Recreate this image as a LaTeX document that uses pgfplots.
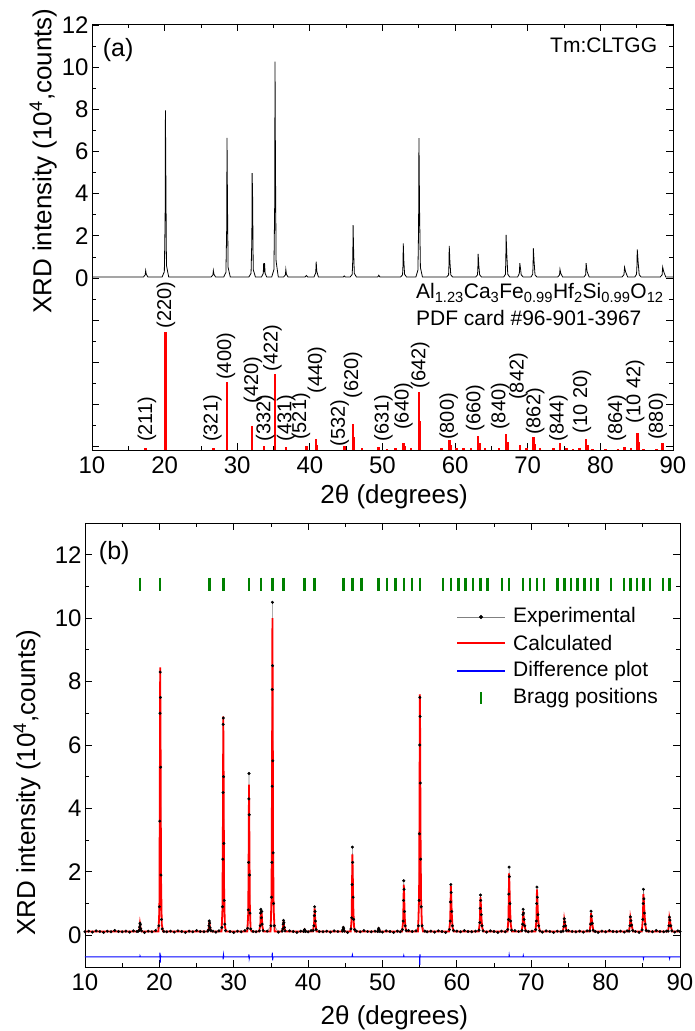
\documentclass[border=0pt]{standalone}
\usepackage{fontspec}
\setmainfont{Liberation Sans}
\usepackage{pgfplots}
\pgfplotsset{compat=1.18}
\definecolor{bragg}{RGB}{0,128,0}

\pgfplotsset{
 mystyle/.style={
  scale only axis,
  xmin=10, xmax=90,
  xtick={10,20,...,90},
  minor x tick num=1,
  tick align=inside,
  major tick length=7pt,
  minor tick length=4pt,
  tick style={black, line width=0.8pt},
  axis line style={line width=0.9pt},
  tick label style={font=\fontsize{24}{27}\selectfont},
  label style={font=\fontsize{26}{29}\selectfont},
  /pgf/number format/assume math mode=true,
  xticklabel style={yshift=-3pt},
 }
}

\begin{document}
\begin{tikzpicture}
\path[use as bounding box] (0pt,0pt) rectangle (695pt,1031pt);

% ---------------- panel (a): measured pattern ----------------
\begin{axis}[mystyle, at={(92pt,581pt)}, anchor=south west, width=581pt, height=426pt,
 ymin=-8.16, ymax=12.05, ytick={0,2,...,12}, extra y ticks={-2,-4,-6,-8}, extra y tick labels={},
 minor ytick={-7,-5,...,11},
 xlabel={2θ (degrees)}, ylabel={XRD intensity (10\textsuperscript{4},counts)},
 xlabel style={at={(axis description cs:0.52,-0.11)}, anchor=center},
 ylabel style={at={(axis description cs:-0.084,0.678)}, anchor=center},
]
\addplot[black, line width=0.8pt] table {
10 0.05
17.09 0.05
17.33 0.15
17.39 0.35
17.47 0.18
17.69 0.05
19.66 0.05
19.96 0.3
20.07 2.8
20.11 7.95
20.16 5.3
20.25 0.6
20.56 0.05
26.41 0.05
26.65 0.15
26.71 0.35
26.79 0.18
27.01 0.05
28.14 0.05
28.44 0.27
28.55 2.4
28.59 6.65
28.65 3.8
28.74 0.5
29.04 0.05
31.6 0.05
31.9 0.22
32.01 1.8
32.05 4.97
32.11 4.0
32.2 0.4
32.5 0.05
33.35 0.05
33.58 0.22
33.64 0.7
33.70 0.28
33.76 0.7
33.84 0.22
34.05 0.05
34.75 0.05
35.05 0.4
35.16 3.6
35.20 10.26
35.26 5.4
35.35 0.8
35.65 0.05
36.39 0.05
36.63 0.15
36.69 0.4
36.77 0.18
36.99 0.05
39.35 0.05
39.52 0.12
39.7 0.05
40.57 0.05
40.81 0.25
40.87 0.77
40.95 0.32
41.17 0.05
44.6 0.05
44.73 0.1
44.86 0.05
45.55 0.05
45.83 0.17
45.91 0.9
45.95 2.51
46.03 1.2
46.12 0.22
46.4 0.05
49.35 0.05
49.49 0.13
49.63 0.05
52.5 0.05
52.76 0.15
52.82 0.6
52.86 1.64
52.94 0.8
53.04 0.18
53.3 0.05
54.6 0.05
54.88 0.38
54.97 2.4
55.02 6.63
55.1 3.3
55.22 0.5
55.5 0.05
58.85 0.05
59.1 0.15
59.15 0.6
59.19 1.52
59.28 0.8
59.4 0.15
59.65 0.05
62.85 0.05
63.08 0.15
63.13 0.45
63.17 1.14
63.26 0.6
63.38 0.15
63.62 0.05
66.7 0.05
66.92 0.17
66.98 0.8
67.02 2.04
67.12 1.1
67.25 0.18
67.5 0.05
68.62 0.05
68.84 0.22
68.91 0.7
69.02 0.4
69.1 0.15
69.35 0.05
70.45 0.05
70.68 0.18
70.73 0.55
70.77 1.41
70.87 0.8
71.0 0.15
71.25 0.05
74.15 0.05
74.38 0.15
74.44 0.41
74.55 0.22
74.8 0.05
77.75 0.05
77.97 0.15
78.04 0.7
78.16 0.32
78.45 0.05
83.0 0.05
83.25 0.16
83.33 0.51
83.47 0.3
83.75 0.05
84.75 0.05
84.98 0.18
85.03 0.55
85.08 1.36
85.2 0.75
85.35 0.15
85.6 0.05
88.25 0.05
88.5 0.15
88.58 0.51
88.72 0.3
89.0 0.05
90 0.05
};
\node[anchor=west, font=\fontsize{25}{28}\selectfont] at (axis cs:11.0,10.8) {(a)};
\node[anchor=east, font=\fontsize{21}{24}\selectfont] at (axis cs:88.3,11.05) {Tm:CLTGG};
\node[anchor=west, font=\fontsize{21}{24}\selectfont, inner sep=0pt] at (axis cs:54.6,-0.71) {Al\textsubscript{1.23}Ca\textsubscript{3}Fe\textsubscript{0.99}Hf\textsubscript{2}Si\textsubscript{0.99}O\textsubscript{12}};
\node[anchor=west, font=\fontsize{21}{24}\selectfont, inner sep=0pt] at (axis cs:54.6,-1.9) {PDF card \#96-901-3967};
\end{axis}

% ---------------- panel (a): PDF card reference bars ----------------
\begin{axis}[at={(92pt,581pt)}, anchor=south west, scale only axis, width=581pt, height=172pt,
 xmin=10, xmax=90, ymin=0, ymax=146.1, hide axis]
\addplot[ycomb, red, line width=2.6pt, no markers] table {
17.39 1.5
20.11 100
26.71 1.7
28.59 57.5
32.05 20.6
33.66 3.7
35.20 64.3
36.69 2.8
39.52 3.1
40.87 9.1
40.97 4.5
44.73 3.1
45.95 22.1
46.07 11
47.16 1.5
49.49 2.8
50.63 1.2
51.76 1.5
52.86 6.2
52.99 3
53.95 1.5
55.02 49.5
55.16 24.6
58.16 1.5
59.19 8.5
59.34 4
60.19 1.5
61.19 1.8
62.18 1.5
63.17 12.1
63.33 6
64.14 1.5
66.06 2
67.02 13.6
67.20 6.8
68.91 4.2
69.84 1.5
70.77 10.8
70.96 5.4
71.69 1.5
73.53 2
74.44 5.7
75.35 1.5
76.25 1.2
77.14 1.5
78.04 9.3
78.26 4.6
78.93 1.2
80.69 1
82.45 1.2
83.33 2.8
84.21 1.5
85.08 14.2
85.34 7
85.96 1
87.71 1.2
88.58 5.7
};
\begin{scope}[every node/.style={rotate=90, anchor=west, inner sep=0pt, font=\fontsize{20}{22}\selectfont}]
\node at (axis cs:17.55,6.8) {(211)};
\node at (axis cs:20.17,103.4) {(220)};
\node at (axis cs:26.6,6.8) {(321)};
\node at (axis cs:28.43,59.5) {(400)};
\node at (axis cs:32.15,39.7) {(420)};
\node at (axis cs:33.85,7.1) {(332)};
\node at (axis cs:34.86,66.5) {(422)};
\node at (axis cs:36.75,7.1) {(431)};
\node at (axis cs:38.76,8.5) {(521)};
\node at (axis cs:40.96,48.2) {(440)};
\node at (axis cs:44.09,2.8) {(532)};
\node at (axis cs:45.92,43.9) {(620)};
\node at (axis cs:50.14,7.1) {(631)};
\node at (axis cs:52.9,17) {(640)};
\node at (axis cs:55.2,52.4) {(642)};
\node at (axis cs:59.1,8.5) {(800)};
\node at (axis cs:62.77,15.5) {(660)};
\node at (axis cs:66.21,17) {(840)};
\node at (axis cs:68.73,42.5) {(842)};
\node at (axis cs:71.03,12.7) {(862)};
\node at (axis cs:74.24,7.1) {(844)};
\node at (axis cs:77.45,14.2) {(10 20)};
\node at (axis cs:82.27,7.1) {(864)};
\node at (axis cs:84.8,22.7) {(10 42)};
\node at (axis cs:87.91,8.5) {(880)};
\end{scope}
\end{axis}

% ---------------- panel (b): Rietveld refinement ----------------
\pgfplotstableread{
10.0 0.11
10.5 0.13
11.0 0.10
11.5 0.14
12.0 0.12
12.5 0.09
13.0 0.13
13.5 0.11
14.0 0.15
14.5 0.12
15.0 0.11
15.5 0.13
16.0 0.10
16.5 0.14
17.0 0.12
17.19 0.13
17.29 0.16
17.34 0.26
17.39 0.38
17.44 0.33
17.49 0.21
17.59 0.14
18.0 0.09
18.5 0.13
19.0 0.11
19.5 0.15
19.93 0.3
20.0 0.9
20.05 3.6
20.09 7.0
20.11 8.3
20.14 7.5
20.17 5.3
20.21 1.9
20.28 0.5
20.38 0.2
20.6 0.12
21.0 0.11
21.5 0.13
22.0 0.10
22.5 0.14
23.0 0.12
23.5 0.09
24.0 0.13
24.5 0.11
25.0 0.15
25.5 0.12
26.0 0.11
26.51 0.13
26.61 0.17
26.66 0.3
26.71 0.45
26.76 0.38
26.81 0.24
26.91 0.15
27.2 0.13
27.6 0.10
28.0 0.14
28.4 0.25
28.48 0.9
28.53 2.4
28.56 4.5
28.58 6.65
28.6 6.85
28.63 5.0
28.67 2.9
28.72 1.1
28.8 0.35
28.9 0.15
29.5 0.12
30.0 0.09
30.5 0.13
31.0 0.11
31.5 0.15
31.86 0.22
31.95 0.8
32.0 2.3
32.03 4.3
32.05 5.1
32.08 3.8
32.12 1.9
32.18 0.7
32.28 0.2
32.6 0.12
33.0 0.11
33.45 0.14
33.55 0.3
33.6 0.7
33.64 0.82
33.7 0.55
33.76 0.75
33.82 0.35
33.95 0.15
34.5 0.13
35.0 0.3
35.08 1.2
35.13 2.3
35.16 4.7
35.18 7.75
35.2 10.5
35.22 8.5
35.25 5.5
35.29 2.6
35.35 1.0
35.45 0.3
36.0 0.10
36.5 0.13
36.6 0.2
36.65 0.35
36.69 0.47
36.74 0.4
36.8 0.25
36.9 0.14
37.5 0.14
38.0 0.12
38.5 0.09
39.0 0.13
39.4 0.12
39.47 0.15
39.52 0.18
39.58 0.15
39.65 0.12
40.0 0.11
40.4 0.15
40.68 0.15
40.78 0.3
40.83 0.62
40.87 0.9
40.92 0.75
40.98 0.45
41.08 0.18
41.5 0.12
42.0 0.11
42.5 0.13
43.0 0.10
43.5 0.14
44.0 0.12
44.6 0.13
44.68 0.18
44.73 0.25
44.78 0.2
44.88 0.13
45.3 0.09
45.76 0.2
45.86 0.55
45.91 1.6
45.95 2.78
45.99 2.3
46.05 1.2
46.12 0.5
46.25 0.18
46.5 0.13
47.0 0.11
47.5 0.15
48.0 0.12
48.5 0.11
49.0 0.13
49.36 0.12
49.44 0.16
49.49 0.22
49.55 0.17
49.65 0.12
50.0 0.10
50.5 0.14
51.0 0.12
51.5 0.09
52.0 0.13
52.4 0.11
52.68 0.18
52.78 0.45
52.83 1.1
52.86 1.72
52.9 1.45
52.96 0.75
53.05 0.3
53.18 0.15
53.5 0.15
54.0 0.12
54.5 0.14
54.83 0.3
54.92 1.1
54.97 3.2
55.0 6.0
55.02 7.5
55.05 6.9
55.08 4.8
55.13 2.4
55.2 0.9
55.32 0.3
55.7 0.13
56.0 0.11
56.5 0.13
57.0 0.10
57.5 0.14
58.0 0.12
58.5 0.09
59.0 0.18
59.1 0.45
59.15 1.05
59.19 1.6
59.23 1.35
59.3 0.75
59.4 0.3
59.55 0.15
60.0 0.13
60.5 0.11
61.0 0.15
61.5 0.12
62.0 0.11
62.5 0.13
62.98 0.16
63.08 0.4
63.13 0.85
63.17 1.27
63.21 1.1
63.28 0.65
63.38 0.3
63.52 0.14
64.0 0.10
64.5 0.14
65.0 0.12
65.5 0.09
66.0 0.13
66.5 0.11
66.84 0.18
66.93 0.5
66.98 1.3
67.02 2.15
67.06 1.85
67.13 1.0
67.22 0.45
67.36 0.16
67.8 0.15
68.3 0.12
68.75 0.15
68.84 0.35
68.88 0.65
68.91 0.82
68.96 0.7
69.03 0.5
69.12 0.3
69.25 0.14
69.6 0.11
70.1 0.13
70.6 0.18
70.69 0.45
70.73 1.0
70.77 1.52
70.82 1.2
70.9 0.65
71.0 0.3
71.14 0.14
71.5 0.10
72.0 0.14
72.5 0.12
73.0 0.09
73.5 0.13
74.0 0.11
74.28 0.13
74.37 0.28
74.44 0.52
74.5 0.42
74.6 0.3
74.72 0.15
75.0 0.15
75.5 0.12
76.0 0.11
76.5 0.13
77.0 0.10
77.5 0.14
77.88 0.14
77.97 0.35
78.04 0.76
78.1 0.6
78.2 0.38
78.32 0.16
78.6 0.12
79.0 0.09
79.5 0.13
80.0 0.11
80.5 0.15
81.0 0.12
81.5 0.11
82.0 0.13
82.5 0.10
82.9 0.14
83.17 0.13
83.26 0.3
83.33 0.58
83.4 0.46
83.5 0.32
83.64 0.15
84.0 0.12
84.5 0.09
84.9 0.17
85.0 0.5
85.05 1.0
85.08 1.45
85.14 1.15
85.22 0.7
85.32 0.35
85.46 0.15
85.8 0.13
86.3 0.11
86.8 0.15
87.3 0.12
87.8 0.11
88.2 0.13
88.42 0.13
88.51 0.3
88.58 0.57
88.65 0.48
88.76 0.3
88.9 0.14
89.3 0.10
89.7 0.14
90.0 0.12
}\expdata

\begin{axis}[mystyle, at={(85pt,64pt)}, anchor=south west, width=595pt, height=444pt,
 ymin=-1, ymax=13, ytick={0,2,...,12}, minor ytick={-1,1,...,13},
 xlabel={2θ (degrees)}, ylabel={XRD intensity (10\textsuperscript{4},counts)},
 xlabel style={at={(axis description cs:0.52,-0.115)}, anchor=center},
 ylabel style={at={(axis description cs:-0.0975,0.415)}, anchor=center},
]
% Bragg positions
\addplot[only marks, mark=|, mark size=6.5pt, mark options={line width=2.5pt, draw=bragg}] table {
17.39 11.07
20.11 11.07
26.71 11.07
28.59 11.07
32.05 11.07
33.66 11.07
35.20 11.07
36.69 11.07
39.52 11.07
40.87 11.07
44.73 11.07
45.95 11.07
47.16 11.07
49.49 11.07
50.63 11.07
51.76 11.07
52.86 11.07
53.95 11.07
55.02 11.07
58.16 11.07
59.19 11.07
60.19 11.07
61.19 11.07
62.18 11.07
63.17 11.07
64.14 11.07
66.06 11.07
67.02 11.07
68.91 11.07
69.84 11.07
70.77 11.07
71.69 11.07
73.53 11.07
74.44 11.07
75.35 11.07
76.25 11.07
77.14 11.07
78.04 11.07
78.93 11.07
80.69 11.07
82.45 11.07
83.33 11.07
84.21 11.07
85.08 11.07
85.96 11.07
87.71 11.07
88.58 11.07
};

% Difference
\addplot[blue, line width=1pt] table {
10 -0.68
17.38 -0.68
17.40 -0.65
17.45 -0.68
20.05 -0.68
20.08 -0.55
20.12 -0.86
20.16 -0.62
20.20 -0.68
28.55 -0.68
28.58 -0.76
28.62 -0.62
28.66 -0.68
32.00 -0.68
32.04 -0.60
32.08 -0.73
32.12 -0.68
35.15 -0.68
35.19 -0.55
35.23 -0.79
35.27 -0.68
45.90 -0.68
45.95 -0.62
46.00 -0.68
52.82 -0.68
52.86 -0.64
52.90 -0.68
54.98 -0.68
55.01 -0.93
55.04 -0.60
55.08 -0.68
67.00 -0.68
67.03 -0.62
67.07 -0.68
68.90 -0.68
68.93 -0.64
68.97 -0.68
85.05 -0.68
85.09 -0.73
85.12 -0.68
88.55 -0.68
88.60 -0.73
88.64 -0.68
90 -0.68
};

% Experimental line
\addplot[draw=gray, line width=0.5pt] table {\expdata};

% Calculated
\addplot[red, line width=1.8pt] table {
10 0.12
17.15 0.12
17.32 0.2
17.39 0.36
17.46 0.24
17.62 0.12
19.88 0.12
20.0 0.8
20.06 4.5
20.11 8.45
20.16 6.2
20.22 1.8
20.32 0.35
20.5 0.12
26.47 0.12
26.64 0.2
26.71 0.44
26.78 0.28
26.95 0.12
28.36 0.12
28.48 0.8
28.55 3.8
28.59 6.9
28.64 5.0
28.7 1.5
28.8 0.3
28.95 0.12
31.82 0.12
31.95 0.7
32.01 2.8
32.05 4.75
32.1 3.2
32.16 1.0
32.26 0.2
32.4 0.12
33.42 0.12
33.58 0.35
33.64 0.78
33.7 0.5
33.76 0.7
33.84 0.3
33.98 0.12
34.95 0.12
35.08 1.2
35.15 5.2
35.2 10.0
35.24 7.5
35.29 2.6
35.37 0.8
35.5 0.12
36.45 0.12
36.62 0.22
36.69 0.45
36.76 0.3
36.93 0.12
39.38 0.12
39.52 0.18
39.66 0.12
40.64 0.12
40.8 0.35
40.87 0.85
40.93 0.6
41.0 0.35
41.12 0.12
44.58 0.12
44.73 0.22
44.88 0.12
45.72 0.12
45.86 0.55
45.91 1.7
45.95 2.55
46.0 2.0
46.07 0.9
46.16 0.3
46.3 0.12
49.35 0.12
49.49 0.2
49.63 0.12
52.63 0.12
52.78 0.45
52.83 1.1
52.86 1.6
52.91 1.3
52.98 0.6
53.08 0.25
53.22 0.12
54.78 0.12
54.92 1.2
54.98 4.2
55.02 7.6
55.06 6.4
55.11 3.4
55.18 1.2
55.3 0.3
55.45 0.12
58.95 0.12
59.1 0.45
59.15 1.0
59.19 1.55
59.24 1.25
59.31 0.7
59.42 0.25
59.58 0.12
62.94 0.12
63.08 0.4
63.13 0.8
63.17 1.2
63.22 1.0
63.29 0.6
63.4 0.25
63.56 0.12
66.8 0.12
66.93 0.5
66.98 1.2
67.02 1.95
67.07 1.6
67.14 0.9
67.24 0.35
67.4 0.12
68.7 0.12
68.84 0.33
68.91 0.75
68.97 0.6
69.04 0.45
69.14 0.25
69.28 0.12
70.56 0.12
70.69 0.45
70.73 0.95
70.77 1.45
70.83 1.1
70.91 0.6
71.02 0.28
71.18 0.12
74.24 0.12
74.37 0.27
74.44 0.5
74.51 0.4
74.62 0.28
74.76 0.12
77.84 0.12
77.97 0.33
78.04 0.7
78.11 0.55
78.22 0.35
78.36 0.12
83.13 0.12
83.26 0.3
83.33 0.55
83.41 0.44
83.52 0.3
83.68 0.12
84.86 0.12
85.0 0.5
85.05 0.95
85.08 1.3
85.15 1.05
85.24 0.65
85.35 0.3
85.5 0.12
88.38 0.12
88.51 0.3
88.58 0.55
88.66 0.45
88.78 0.28
88.94 0.12
90 0.12
};

% Experimental points on top
\addplot[only marks, mark=*, mark size=1.3pt, mark options={fill=black, draw=black}] table {\expdata};

\node[anchor=west, font=\fontsize{25}{28}\selectfont] at (axis cs:11.4,12.05) {(b)};
\end{axis}

% ---------------- panel (b): key ----------------
\begin{axis}[at={(457pt,319pt)}, anchor=south west, scale only axis, width=48pt, height=108pt,
 xmin=0, xmax=48, ymin=0, ymax=108, hide axis, clip=false]
\addplot[gray, line width=0.8pt] coordinates {(0,95) (48,95)};
\addplot[only marks, mark=*, mark size=1.8pt, mark options={fill=black, draw=black}] coordinates {(24,95)};
\addplot[red, line width=1.4pt] coordinates {(0,69) (48,69)};
\addplot[blue, line width=1.4pt] coordinates {(0,41) (48,41)};
\addplot[bragg, line width=2.5pt] coordinates {(24,8) (24,20)};
\begin{scope}[every node/.style={anchor=west, inner sep=0pt, font=\fontsize{21}{24}\selectfont}]
\node at (axis cs:56,95) {Experimental};
\node at (axis cs:56,69) {Calculated};
\node at (axis cs:56,41) {Difference plot};
\node at (axis cs:56,14) {Bragg positions};
\end{scope}
\end{axis}
\end{tikzpicture}
\end{document}
